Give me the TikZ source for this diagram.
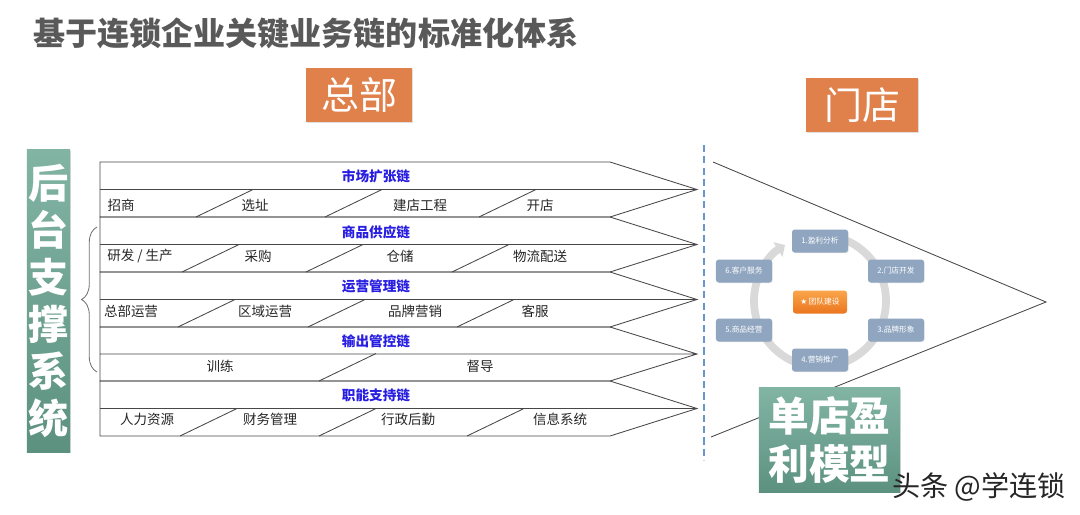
\documentclass[tikz,border=0pt]{standalone}
\usepackage{fontspec}
\setmainfont{Noto Sans CJK SC}
\newfontfamily\symfont{DejaVu Sans}
\usetikzlibrary{arrows.meta,decorations.pathreplacing,shadows}
\definecolor{titlegray}{RGB}{89,89,89}
\definecolor{chainblue}{RGB}{40,30,225}
\definecolor{hqorange}{RGB}{224,128,74}
\definecolor{tealtop}{RGB}{130,180,164}
\definecolor{tealbot}{RGB}{92,145,128}
\definecolor{nodegray}{RGB}{143,165,192}
\definecolor{ringgray}{RGB}{217,217,217}
\definecolor{dashblue}{RGB}{105,148,206}
\definecolor{coretop}{RGB}{250,165,75}
\definecolor{corebot}{RGB}{235,118,30}

\begin{document}
\begin{tikzpicture}[x=0.025cm, y=-0.025cm, every node/.style={inner sep=0pt},
  chainline/.style={draw=black!72, line width=0.6pt},
  chaintitle/.style={font=\fontsize{9.7}{11}\selectfont\bfseries, text=chainblue},
  chainitem/.style={font=\fontsize{9.6}{11}\selectfont, text=black!85},
  hqtag/.style={fill=hqorange, text=white, font=\fontsize{27}{30}\selectfont, minimum height=1.35cm,
    drop shadow={shadow xshift=0.6pt, shadow yshift=-0.8pt, opacity=0.25}},
  tealbox/.style={top color=tealtop, bottom color=tealbot, text=white, align=center,
    drop shadow={shadow xshift=0.8pt, shadow yshift=-0.8pt, opacity=0.3}},
  cyclebox/.style={fill=nodegray, rounded corners=2pt, minimum width=1.4cm, minimum height=0.575cm,
    text=white, font=\fontsize{5.5}{6}\selectfont, drop shadow={shadow xshift=0.5pt, shadow yshift=-0.5pt, opacity=0.2}},
  corebox/.style={top color=coretop, bottom color=corebot, rounded corners=2pt, minimum width=1.35cm,
    minimum height=0.575cm, text=white, font=\fontsize{5.5}{6}\selectfont}]
  \fill[white] (0,0) rectangle (1080,514);
  \useasboundingbox (0,0) rectangle (1080,514);
  \node[anchor=west, font=\fontsize{22.8}{25}\selectfont\bfseries, text=titlegray] (title) at (33,33) {基于连锁企业关键业务链的标准化体系};
  \node[hqtag, minimum width=2.65cm] (hq) at (359,95) {总部};
  \node[hqtag, minimum width=2.8cm] (store) at (862,105) {门店};
  \node[tealbox, minimum width=1.075cm, minimum height=7.55cm, font=\fontsize{28.5}{33.5}\selectfont\bfseries] (backend) at (48.5,301) {后\\台\\支\\撑\\系\\统};
  \draw[decorate, decoration={brace, amplitude=11pt}, black!55, line width=0.6pt] (97,372) -- (97,227);
  \foreach \t/\b in {162/217, 217/272, 272/327, 327/381, 381/436} {
    \pgfmathsetmacro\m{(\t+\b)/2}
    \draw[chainline] (100,\t) -- (610,\t) -- (697,\m) -- (610,\b) -- (100,\b) -- cycle (100,\m) -- (697,\m);
  }
  \foreach \s/\b in {196/217, 325/217, 479/217, 182/272, 306/272, 452/272, 178/327, 308/327, 457/327, 319/381, 180/436, 319/436, 467/436}
    \draw[chainline] (\s,\b) -- ++(57,-27.5);
  \foreach \y/\txt [count=\i] in {176/市场扩张链, 232/商品供应链, 286/运营管理链, 341/输出管控链, 395/职能支持链}
    \node[chaintitle] (link\i) at (376,\y) {\txt};
  \foreach \x/\y/\txt [count=\i] in {121/205/招商, 255/205/选址, 420/205/建店工程, 540/205/开店,
      140/256/研发 \slash{} 生产, 258/256/采购, 400/256/仓储, 540/256/物流配送,
      131/311/总部运营, 265/311/区域运营, 415/311/品牌营销, 535/311/客服,
      220/366/训练, 480/366/督导,
      147/419/人力资源, 270/419/财务管理, 408/419/行政后勤, 560/419/信息系统}
    \node[chainitem] (task\i) at (\x,\y) {\txt};
  \draw[dashblue, line width=1.2pt, dash pattern=on 5pt off 3pt] (704,145) -- (704,460);
  \draw[black!72, line width=0.6pt] (713,162) -- (1046,302) -- (711,437);
  \coordinate (hub) at (820,301);
  \draw[ringgray, line width=5.5pt, -{Triangle[length=6pt, width=12pt]}] (hub) ++(-80:66) arc[start angle=-80, end angle=238, radius=66];
  \foreach \x/\y/\txt [count=\i] in {820/241/1.盈利分析, 896/271/2.门店开发, 896/330/3.品牌形象, 820/360/4.营销推广, 744/330/5.商品经营, 744/271/6.客户服务}
    \node[cyclebox] (phase\i) at (\x,\y) {\txt};
  \node[corebox] (team) at (820,302) {{\symfont ★}\,团队建设};
  \node[tealbox, minimum width=3.525cm, minimum height=2.6cm, font=\fontsize{29}{34}\selectfont\bfseries] (model) at (829.5,440) {单店盈\\利模型};
  \node[font=\fontsize{20}{22}\selectfont, text=black!85] (mark) at (979,487) {头条 @学连锁};
\end{tikzpicture}
\end{document}
